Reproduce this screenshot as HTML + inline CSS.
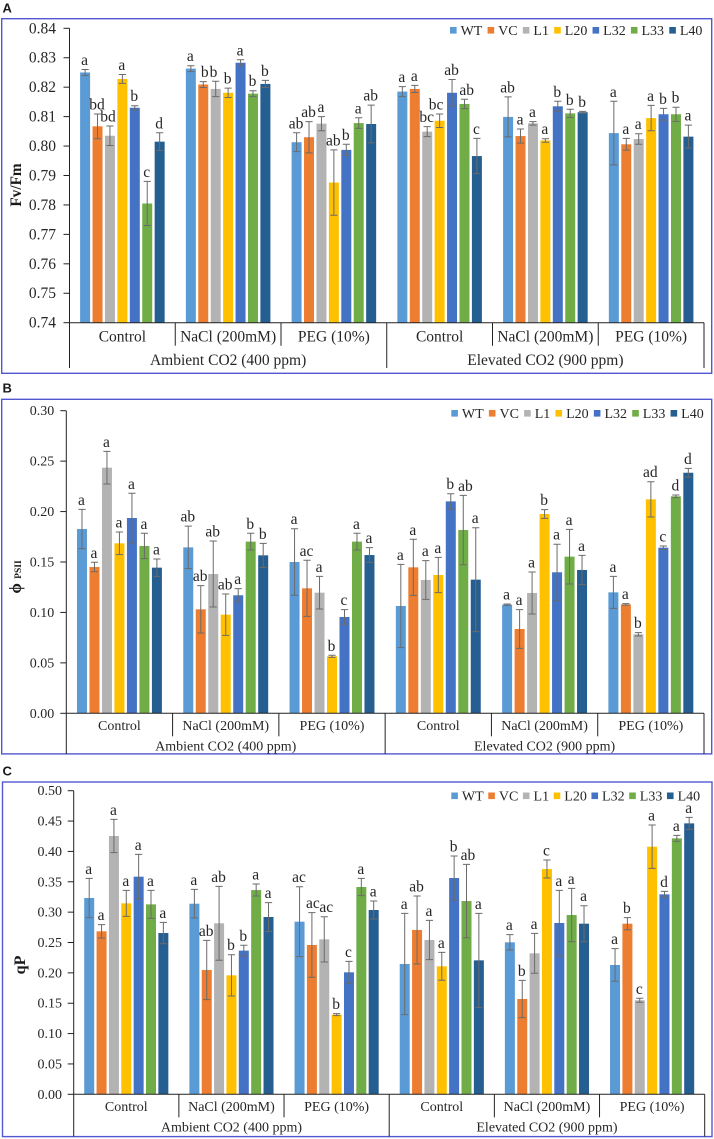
<!DOCTYPE html>
<html lang="en">
<head>
<meta charset="utf-8">
<title>Photosynthetic parameters by line and treatment</title>
<style>
  html, body { margin: 0; padding: 0; background: #fff; }
  svg { display: block; }
  text { font-family: "Liberation Serif", serif; fill: #262626; }
  .panel-letter { font-family: "Liberation Sans", sans-serif; font-weight: bold; font-size: 13px; fill: #1a1a1a; }
  .panel-frame { fill: none; stroke: #5357d2; stroke-width: 1.4; }
  .y-title { font-weight: bold; fill: #1a1a1a; }
</style>
</head>
<body>
<svg id="fig" xmlns="http://www.w3.org/2000/svg" width="714" height="1139" viewBox="0 0 714 1139">
  <text class="panel-letter" x="2.5" y="12.5">A</text>
  <rect class="panel-frame" x="1.7" y="18.7" width="710" height="354.6"></rect>
  <text class="panel-letter" x="2.5" y="392.5">B</text>
  <rect class="panel-frame" x="1.7" y="399.3" width="710" height="354.6"></rect>
  <text class="panel-letter" x="2.5" y="775.5">C</text>
  <rect class="panel-frame" x="2.5" y="782" width="709.5" height="354.6"></rect>
  <text class="y-title" font-size="15.3" text-anchor="middle" transform="translate(21 185) rotate(-90)">Fv/Fm</text>
  <text class="y-title" font-size="17" text-anchor="middle" transform="translate(21 577) rotate(-90)">ϕ <tspan font-size="9.5">PSII</tspan></text>
  <text class="y-title" font-size="16" text-anchor="middle" transform="translate(25 965) rotate(-90)">qP</text>
</svg>
<script>
const seriesNames = ['WT', 'VC', 'L1', 'L20', 'L32', 'L33', 'L40'];
const seriesColors = ['#5b9bd5', '#ed7d31', '#b3b3b3', '#ffc000', '#4472c4', '#70ad47', '#255e91'];
const treatments = ['Control', 'NaCl (200mM)', 'PEG (10%)', 'Control', 'NaCl (200mM)', 'PEG (10%)'];
const co2Levels = ['Ambient CO2 (400 ppm)', 'Elevated CO2 (900 ppm)'];

const fvfmTicks = ['0.74', '0.75', '0.76', '0.77', '0.78', '0.79', '0.80', '0.81', '0.82', '0.83', '0.84'];
const fvfmMeans = [
  [0.8250, 0.8067, 0.8035, 0.8228, 0.8130, 0.7805, 0.8015],
  [0.8263, 0.8209, 0.8194, 0.8181, 0.8283, 0.8178, 0.8211],
  [0.8013, 0.8030, 0.8076, 0.7876, 0.7987, 0.8078, 0.8075],
  [0.8185, 0.8194, 0.8049, 0.8086, 0.8181, 0.8143, 0.7966],
  [0.8099, 0.8034, 0.8077, 0.8019, 0.8135, 0.8111, 0.8115],
  [0.8044, 0.8006, 0.8024, 0.8095, 0.8108, 0.8108, 0.8032]
];
const fvfmErrors = [
  [0.0010, 0.0042, 0.0033, 0.0015, 0.0007, 0.0075, 0.0030],
  [0.0010, 0.0010, 0.0026, 0.0016, 0.0010, 0.0010, 0.0012],
  [0.0032, 0.0053, 0.0024, 0.0111, 0.0019, 0.0018, 0.0064],
  [0.0017, 0.0012, 0.0017, 0.0023, 0.0045, 0.0016, 0.0060],
  [0.0068, 0.0024, 0.0006, 0.0006, 0.0017, 0.0014, 0.0003],
  [0.0108, 0.0020, 0.0018, 0.0043, 0.0020, 0.0024, 0.0039]
];
const fvfmLetters = [
  ['a', 'bd', 'bd', 'a', 'b', 'c', 'd'],
  ['a', 'b', 'b', 'b', 'a', 'b', 'b'],
  ['ab', 'ab', 'a', 'ab', 'b', 'a', 'ab'],
  ['a', 'a', 'bc', 'bc', 'ab', 'ab', 'c'],
  ['ab', 'a', 'a', 'a', 'b', 'b', 'b'],
  ['a', 'a', 'a', 'a', 'b', 'b', 'a']
];

const phiTicks = ['0.00', '0.05', '0.10', '0.15', '0.20', '0.25', '0.30'];
const phiMeans = [
  [0.1827, 0.1450, 0.2435, 0.1685, 0.1936, 0.1659, 0.1444],
  [0.1645, 0.1031, 0.1381, 0.0978, 0.1170, 0.1702, 0.1566],
  [0.1500, 0.1239, 0.1196, 0.0565, 0.0955, 0.1702, 0.1569],
  [0.1064, 0.1447, 0.1322, 0.1371, 0.2101, 0.1817, 0.1325],
  [0.1077, 0.0836, 0.1193, 0.1976, 0.1398, 0.1553, 0.1421],
  [0.1199, 0.1080, 0.0783, 0.2121, 0.1642, 0.2151, 0.2385]
];
const phiErrors = [
  [0.0195, 0.0047, 0.0162, 0.0112, 0.0245, 0.0126, 0.0086],
  [0.0211, 0.0235, 0.0327, 0.0205, 0.0066, 0.0083, 0.0119],
  [0.0330, 0.0278, 0.0162, 0.0010, 0.0073, 0.0083, 0.0073],
  [0.0413, 0.0278, 0.0192, 0.0175, 0.0076, 0.0344, 0.0515],
  [0.0007, 0.0192, 0.0208, 0.0043, 0.0278, 0.0271, 0.0145],
  [0.0159, 0.0007, 0.0017, 0.0175, 0.0017, 0.0013, 0.0043]
];
const phiLetters = [
  ['a', 'a', 'a', 'a', 'a', 'a', 'a'],
  ['ab', 'ab', 'ab', 'ab', 'a', 'b', 'b'],
  ['a', 'ac', 'a', 'b', 'c', 'a', 'a'],
  ['a', 'a', 'a', 'a', 'b', 'ab', 'a'],
  ['a', 'a', 'a', 'b', 'a', 'a', 'a'],
  ['a', 'a', 'b', 'ad', 'c', 'd', 'd']
];

const qpTicks = ['0.00', '0.05', '0.10', '0.15', '0.20', '0.25', '0.30', '0.35', '0.40', '0.45', '0.50'];
const qpMeans = [
  [0.3233, 0.2684, 0.4254, 0.3145, 0.3584, 0.3128, 0.2656],
  [0.3139, 0.2047, 0.2816, 0.1959, 0.2366, 0.3364, 0.2920],
  [0.2843, 0.2459, 0.2552, 0.1312, 0.2009, 0.3414, 0.3035],
  [0.2146, 0.2706, 0.2541, 0.2108, 0.3562, 0.3183, 0.2206],
  [0.2503, 0.1570, 0.2322, 0.3710, 0.2821, 0.2953, 0.2810],
  [0.2130, 0.2810, 0.1548, 0.4078, 0.3293, 0.4215, 0.4462]
];
const qpErrors = [
  [0.0324, 0.0110, 0.0274, 0.0214, 0.0368, 0.0230, 0.0176],
  [0.0236, 0.0488, 0.0609, 0.0340, 0.0088, 0.0099, 0.0236],
  [0.0576, 0.0532, 0.0373, 0.0016, 0.0181, 0.0143, 0.0148],
  [0.0834, 0.0560, 0.0324, 0.0230, 0.0362, 0.0604, 0.0774],
  [0.0126, 0.0307, 0.0329, 0.0148, 0.0538, 0.0439, 0.0296],
  [0.0269, 0.0099, 0.0033, 0.0357, 0.0049, 0.0049, 0.0099]
];
const qpLetters = [
  ['a', 'a', 'a', 'a', 'a', 'a', 'a'],
  ['a', 'ab', 'ab', 'b', 'b', 'a', 'a'],
  ['ac', 'ac', 'ac', 'b', 'c', 'a', 'a'],
  ['a', 'ab', 'a', 'a', 'b', 'ab', 'a'],
  ['a', 'b', 'a', 'c', 'a', 'a', 'a'],
  ['a', 'b', 'c', 'a', 'd', 'a', 'a']
];

const SVG_NS = 'http://www.w3.org/2000/svg';
const fig = document.getElementById('fig');

function shape(tag, parent, attrs) {
  const el = document.createElementNS(SVG_NS, tag);
  for (const k in attrs) el.setAttribute(k, attrs[k]);
  parent.appendChild(el);
  return el;
}

function drawPanel(cfg) {
  const panel = shape('g', fig, {});
  
  

  const tickMin = parseFloat(cfg.ticks[0]);
  const tickMax = parseFloat(cfg.ticks[cfg.ticks.length - 1]);
  const yScale = v => cfg.y0 - (v - tickMin) / (tickMax - tickMin) * (cfg.y0 - cfg.yTop);
  const groupW = (cfg.xEnd - cfg.x0) / cfg.means.length;
  const barStep = groupW * 0.1175;
  const groupCenter = g => cfg.x0 + groupW * (g + 0.5);
  const xScale = (g, s) => groupCenter(g) + (s - (seriesNames.length - 1) / 2) * barStep;

  // bars
  cfg.means.forEach((row, g) => {
    row.forEach((v, s) => {
      const bar = shape('rect', panel, {
        x: xScale(g, s) - 5, y: yScale(v), width: 10, height: cfg.y0 - yScale(v), fill: seriesColors[s]
      });
      
      
    });
  });

  // error bars and significance letters
  cfg.means.forEach((row, g) => {
    row.forEach((v, s) => {
      const e = cfg.errors[g][s];
      const cx = xScale(g, s);
      const top = yScale(v + e);
      const bot = yScale(v - e);
      const err = shape('path', panel, {
        d: 'M' + cx + ' ' + top + 'V' + bot + 'M' + (cx - 3.6) + ' ' + top + 'h7.2M' + (cx - 3.6) + ' ' + bot + 'h7.2',
        stroke: '#6b6b6b', 'stroke-width': 1, fill: 'none'
      });
      
      
      const shift = cfg.labelShift[g + ':' + s] || 0;
      const lab = shape('text', panel, { x: cx - 0.5 + shift, y: top - 4.5, 'text-anchor': 'middle', 'font-size': 15.5 });
      lab.textContent = cfg.letters[g][s];
      
      
    });
  });

  // value axis
  const yAxis = shape('line', panel, { x1: cfg.x0, x2: cfg.x0, y1: cfg.yTop, y2: cfg.yBottom, stroke: '#222', 'stroke-width': 1 });
  
  
  cfg.ticks.forEach(t => {
    const y = yScale(parseFloat(t));
    const mark = shape('line', panel, { x1: cfg.x0 - 6, x2: cfg.x0, y1: y, y2: y, stroke: '#222', 'stroke-width': 1 });
    
    
    const lab = shape('text', panel, { x: cfg.tickRight, y: y + cfg.tickSize * 0.32, 'text-anchor': 'end', 'font-size': cfg.tickSize });
    lab.textContent = t;
    
    
  });

  // category axis
  const xAxis = shape('line', panel, { x1: cfg.x0, x2: cfg.xEnd, y1: cfg.y0, y2: cfg.y0, stroke: '#222', 'stroke-width': 1 });
  
  
  treatments.forEach((name, g) => {
    const lab = shape('text', panel, { x: groupCenter(g), y: cfg.catBase, 'text-anchor': 'middle', 'font-size': cfg.catSize });
    lab.textContent = name;
    
    
    if (g > 0) {
      const major = g % 3 === 0;
      const div = shape('line', panel, {
        x1: cfg.x0 + g * groupW, x2: cfg.x0 + g * groupW, y1: cfg.y0,
        y2: major ? cfg.yBottom : cfg.y0 + 23, stroke: '#222', 'stroke-width': 1
      });
      
      
    }
  });
  const endLine = shape('line', panel, { x1: cfg.xEnd, x2: cfg.xEnd, y1: cfg.y0, y2: cfg.yBottom, stroke: '#222', 'stroke-width': 1 });
  
  
  co2Levels.forEach((name, i) => {
    const lab = shape('text', panel, { x: cfg.x0 + groupW * (1.5 + i * 3), y: cfg.co2Base, 'text-anchor': 'middle', 'font-size': cfg.catSize });
    lab.textContent = name;
    
    
  });

  // legend
  let lx = cfg.legendX;
  seriesNames.forEach((name, s) => {
    const swatch = shape('rect', panel, { x: lx, y: cfg.legendBase - 8, width: 6.6, height: 6.6, fill: seriesColors[s] });
    
    
    const lab = shape('text', panel, { x: lx + 10.6, y: cfg.legendBase, 'font-size': 14 });
    lab.textContent = name;
    
    
    lx += 10.6 + lab.getComputedTextLength() + cfg.legendGap;
  });
}

drawPanel({
  id: 'fv-fm', ticks: fvfmTicks, means: fvfmMeans, errors: fvfmErrors, letters: fvfmLetters,
  labelShift: { '0:2': -1.5, '1:1': 2, '1:2': -1.7, '3:3': -3, '3:5': 2.7 },
  x0: 69.5, xEnd: 704, yTop: 28.3, y0: 322.7, yBottom: 368,
  tickRight: 56, tickSize: 15.5, catSize: 15.5, catBase: 341.7, co2Base: 365,
  legendX: 450, legendBase: 35, legendGap: 5.2
});
drawPanel({
  id: 'phi-psii', ticks: phiTicks, means: phiMeans, errors: phiErrors, letters: phiLetters,
  labelShift: { '3:5': 2.7 },
  x0: 66.3, xEnd: 704, yTop: 410.7, y0: 713.3, yBottom: 754,
  tickRight: 54.3, tickSize: 14, catSize: 14, catBase: 730, co2Base: 750.3,
  legendX: 451.3, legendBase: 418, legendGap: 5.2
});
drawPanel({
  id: 'qp', ticks: qpTicks, means: qpMeans, errors: qpErrors, letters: qpLetters,
  labelShift: { '2:1': 1.5, '2:2': 2.5, '3:5': 2 },
  x0: 73.7, xEnd: 704.7, yTop: 790.7, y0: 1094.3, yBottom: 1136.5,
  tickRight: 62, tickSize: 14, catSize: 14, catBase: 1111, co2Base: 1131.7,
  legendX: 451.3, legendBase: 800.5, legendGap: 4.6
});
</script>
</body>
</html>
